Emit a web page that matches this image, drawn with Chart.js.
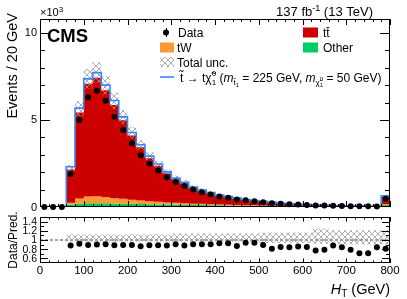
<!DOCTYPE html>
<html>
<head>
<meta charset="utf-8">
<script src="https://cdn.jsdelivr.net/npm/chart.js@4.4.1/dist/chart.umd.min.js"></script>
<style>
  html, body { margin: 0; padding: 0; background: #fff; }
  #wrap { position: relative; width: 407px; height: 299px; overflow: hidden; }
  canvas { position: absolute; left: 0; top: 0; }
</style>
</head>
<body>
<div id="wrap">
  <canvas id="main" width="407" height="299"></canvas>
  <canvas id="ratio" width="407" height="299"></canvas>
</div>
<script>
// --- binning (H_T, GeV; last bin holds the overflow) ---
const binLow = [0, 20, 40, 60, 80, 100, 120, 140, 160, 180, 200, 220, 240, 260, 280, 300, 320, 340, 360, 380,
                400, 420, 440, 460, 480, 500, 520, 540, 560, 580, 600, 620, 640, 660, 680, 700, 720, 740, 760, 780];
const binWidth = 20;

// --- events / 20 GeV, in units of 10^3 ---
const dataVals = [0.003, 0.003, 0.003, 1.90, 5.00, 6.30, 6.68, 6.11, 5.19, 4.43, 3.66, 2.97, 2.48, 2.10, 1.71, 1.44,
                  1.20, 1.00, 0.85, 0.72, 0.60, 0.53, 0.43, 0.39, 0.33, 0.28, 0.22, 0.18, 0.16, 0.14, 0.11, 0.09,
                  0.08, 0.07, 0.06, 0.05, 0.045, 0.04, 0.035, 0.47];
const ttbar = [0, 0, 0, 1.91, 4.94, 6.47, 6.80, 6.14, 5.34, 4.51, 3.69, 3.06, 2.47, 2.07, 1.68, 1.35,
               1.15, 0.91, 0.76, 0.63, 0.50, 0.435, 0.37, 0.305, 0.25, 0.225, 0.185, 0.142, 0.12, 0.10, 0.076, 0.068,
               0.055, 0.041, 0.032, 0.028, 0.031, 0.030, 0.017, 0.41];
const tW = [0, 0, 0, 0.11, 0.30, 0.40, 0.41, 0.36, 0.32, 0.28, 0.24, 0.20, 0.17, 0.15, 0.12, 0.11,
            0.09, 0.08, 0.07, 0.06, 0.05, 0.045, 0.04, 0.035, 0.03, 0.025, 0.022, 0.02, 0.018, 0.015, 0.013, 0.012,
            0.01, 0.009, 0.008, 0.007, 0.007, 0.006, 0.005, 0.05];
const other = [0, 0, 0, 0.14, 0.19, 0.21, 0.21, 0.21, 0.20, 0.19, 0.18, 0.17, 0.16, 0.15, 0.14, 0.13,
               0.12, 0.11, 0.11, 0.10, 0.10, 0.09, 0.08, 0.07, 0.07, 0.06, 0.06, 0.05, 0.05, 0.045, 0.04, 0.04,
               0.035, 0.03, 0.03, 0.025, 0.025, 0.02, 0.02, 0.12];
const signal = [0, 0, 0, 0.15, 0.25, 0.28, 0.30, 0.29, 0.26, 0.20, 0.17, 0.15, 0.12, 0.10, 0.08, 0.07,
                0.06, 0.05, 0.04, 0.035, 0.03, 0.025, 0.02, 0.02, 0.015, 0.015, 0.012, 0.01, 0.01, 0.008, 0.007, 0.006,
                0.005, 0.005, 0.004, 0.004, 0.003, 0.003, 0.003, 0.06];

// --- relative total uncertainty (down / up) ---
const uncDown = [0, 0, 0, 0.04, 0.04, 0.04, 0.04, 0.04, 0.04, 0.04, 0.04, 0.04, 0.04, 0.04, 0.04, 0.04,
                 0.04, 0.04, 0.04, 0.04, 0.04, 0.04, 0.04, 0.04, 0.04, 0.065, 0.065, 0.065, 0.065, 0.065, 0.065, 0.08,
                 0.08, 0.10, 0.10, 0.10, 0.10, 0.10, 0.10, 0.10];
const uncUp = [0, 0, 0, 0.12, 0.12, 0.12, 0.12, 0.12, 0.12, 0.12, 0.12, 0.12, 0.12, 0.12, 0.12, 0.14,
               0.14, 0.14, 0.14, 0.14, 0.14, 0.14, 0.14, 0.14, 0.14, 0.165, 0.165, 0.165, 0.165, 0.165, 0.165, 0.25,
               0.25, 0.21, 0.21, 0.21, 0.21, 0.21, 0.21, 0.21];

// --- data / prediction ---
const ratioVals = [null, null, null, 0.88, 0.92, 0.89, 0.90, 0.91, 0.885, 0.89, 0.89, 0.865, 0.885, 0.885, 0.88, 0.905,
                   0.88, 0.905, 0.905, 0.91, 0.93, 0.93, 0.87, 0.94, 0.94, 0.89, 0.81, 0.85, 0.84, 0.86, 0.85, 0.77,
                   0.79, 0.88, 0.84, 0.79, 0.71, 0.71, 0.84, 0.81];
const ratioErr = [0, 0, 0, 0.008, 0.006, 0.006, 0.006, 0.006, 0.006, 0.007, 0.007, 0.008, 0.008, 0.009, 0.01, 0.011,
                  0.012, 0.013, 0.014, 0.015, 0.017, 0.018, 0.02, 0.021, 0.022, 0.024, 0.026, 0.028, 0.03, 0.032, 0.035, 0.038,
                  0.04, 0.042, 0.045, 0.048, 0.052, 0.055, 0.06, 0.03];

// --- axis ticks ---
const xMajorTicks = [0, 100, 200, 300, 400, 500, 600, 700, 800];
const mainYMajor = [0, 5, 10];
const ratioYMajor = [0.6, 0.8, 1.0, 1.2, 1.4];
const ratioYLabels = ['0.6', '0.8', '1', '1.2', '1.4'];

const FONT = '"Liberation Sans", Arial, Helvetica, sans-serif';
const C_TT = '#cc0000', C_TW = '#ff9933', C_OTHER = '#00cc66', C_SIG = '#3388ff';

function makeHatch() {
  const c = document.createElement('canvas');
  c.width = 6; c.height = 6;
  const g = c.getContext('2d');
  g.strokeStyle = '#999';
  g.lineWidth = 0.8;
  g.beginPath();
  g.moveTo(0, 0); g.lineTo(6, 6);
  g.moveTo(6, 0); g.lineTo(0, 6);
  g.stroke();
  return g.createPattern(c, 'repeat');
}
const hatch = makeHatch();

// histogram outline: two points per bin
function histPath(vals, onlyIdx) {
  const pts = [];
  vals.forEach((v, i) => {
    if (v == null || (onlyIdx && !onlyIdx(i))) return;
    pts.push({ x: binLow[i], y: v }, { x: binLow[i] + binWidth, y: v });
  });
  return pts;
}

const smTotal = binLow.map((_, i) => other[i] + tW[i] + ttbar[i]);
const cumOther = other.slice();
const cumTW = binLow.map((_, i) => other[i] + tW[i]);
const uncLo = smTotal.map((v, i) => v * (1 - uncDown[i]));
const uncHi = smTotal.map((v, i) => v * (1 + uncUp[i]));
const sigTop = smTotal.map((v, i) => v + signal[i]);
const firstBin = sigTop.findIndex(v => v > 0);
const sigPath = [{ x: binLow[firstBin], y: 0 }].concat(histPath(sigTop, i => i >= firstBin));
const binCenter = binLow.map(v => v + binWidth / 2);
const dataErr = dataVals.map((v, i) => ratioVals[i] ? v * ratioErr[i] / ratioVals[i] : 0);

function richText(ctx, x, y, parts, align) {
  const font = p => (p.italic ? 'italic ' : '') + (p.bold ? 'bold ' : '') + (p.size || 12) + 'px ' + FONT;
  let w = 0;
  parts.forEach(p => { ctx.font = font(p); p.w = ctx.measureText(p.t).width; if (!p.keep) w += p.w; });
  let cx = align === 'right' ? x - w : align === 'center' ? x - w / 2 : x;
  ctx.textAlign = 'left';
  ctx.textBaseline = 'alphabetic';
  parts.forEach(p => {
    ctx.font = font(p);
    ctx.fillText(p.t, cx, y + (p.dy || 0));
    if (!p.keep) cx += p.w;
  });
}

// ROOT-like frame with inward ticks on all four sides
const rootFrame = {
  id: 'rootFrame',
  afterDraw(chart, args, o) {
    const { ctx, chartArea: a } = chart;
    const xs = chart.scales.x, ys = chart.scales.y;
    ctx.save();
    ctx.strokeStyle = '#000';
    ctx.lineWidth = 1;
    ctx.beginPath();
    for (let v = xs.min; v <= xs.max; v += o.xMinorStep) {
      const px = Math.round(xs.getPixelForValue(v)) + 0.5;
      const len = xMajorTicks.includes(v) ? o.xMajor : o.xMinor;
      ctx.moveTo(px, a.bottom); ctx.lineTo(px, a.bottom - len);
      ctx.moveTo(px, a.top); ctx.lineTo(px, a.top + len);
    }
    for (let k = 1; ; k++) {
      const v = +(ys.min + k * o.yMinorStep).toFixed(4);
      if (v >= ys.max) break;
      const py = Math.round(ys.getPixelForValue(v)) + 0.5;
      const len = o.yMajorVals.some(m => Math.abs(m - v) < 1e-6) ? o.yMajor : o.yMinor;
      ctx.moveTo(a.left, py); ctx.lineTo(a.left + len, py);
      ctx.moveTo(a.right, py); ctx.lineTo(a.right - len, py);
    }
    ctx.stroke();
    ctx.strokeRect(a.left + 0.5, a.top + 0.5, a.right - a.left - 1, a.bottom - a.top - 1);

    ctx.fillStyle = '#000';
    ctx.font = o.yFont + 'px ' + FONT;
    ctx.textAlign = 'right';
    ctx.textBaseline = 'middle';
    o.yMajorVals.forEach((v, i) => ctx.fillText(o.yLabels[i], a.left - 3, ys.getPixelForValue(v) + 0.5));
    if (o.xLabels) {
      ctx.font = o.xFont + 'px ' + FONT;
      ctx.textAlign = 'center';
      ctx.textBaseline = 'top';
      xMajorTicks.forEach(v => ctx.fillText(String(v), xs.getPixelForValue(v), a.bottom + 2.5));
    }
    ctx.restore();
  }
};

const errBars = {
  id: 'errBars',
  afterDatasetsDraw(chart, args, o) {
    const { ctx } = chart;
    const xs = chart.scales.x, ys = chart.scales.y;
    ctx.save();
    ctx.strokeStyle = '#000';
    ctx.lineWidth = 1;
    ctx.beginPath();
    o.y.forEach((v, i) => {
      if (v == null || !o.e[i]) return;
      const px = Math.round(xs.getPixelForValue(o.x[i])) + 0.5;
      ctx.moveTo(px, ys.getPixelForValue(v - o.e[i]));
      ctx.lineTo(px, ys.getPixelForValue(v + o.e[i]));
    });
    ctx.stroke();
    ctx.restore();
  }
};

// CMS label, lumi, legend, axis titles
const mainText = {
  id: 'mainText',
  afterDraw(chart) {
    const { ctx } = chart;
    ctx.save();
    ctx.fillStyle = '#000';
    richText(ctx, 47, 41.5, [{ t: 'CMS', bold: true, size: 18.5 }]);
    richText(ctx, 373, 16, [{ t: '137 fb', size: 13 }, { t: '-1', size: 9, dy: -5 }, { t: ' (13 TeV)', size: 13 }], 'right');
    richText(ctx, 40, 16, [{ t: '\u00d710', size: 11 }, { t: '3', size: 8, dy: -4 }]);

    ctx.save();
    ctx.translate(17, 13);
    ctx.rotate(-Math.PI / 2);
    ctx.font = '14.5px ' + FONT;
    ctx.textAlign = 'right';
    ctx.textBaseline = 'alphabetic';
    ctx.fillText('Events / 20 GeV', 0, 0);
    ctx.restore();

    // legend
    const rows = [32.5, 47.5, 62, 77];
    // Data
    ctx.beginPath(); ctx.arc(166, rows[0], 3, 0, Math.PI * 2); ctx.fill();
    ctx.strokeStyle = '#000'; ctx.lineWidth = 1;
    ctx.beginPath(); ctx.moveTo(166.5, rows[0] - 4.5); ctx.lineTo(166.5, rows[0] + 4.5); ctx.stroke();
    richText(ctx, 178, rows[0] + 4.5, [{ t: 'Data' }]);
    // tW
    ctx.fillStyle = C_TW; ctx.fillRect(160, rows[1] - 5, 14, 10);
    ctx.fillStyle = '#000';
    richText(ctx, 177, rows[1] + 4.5, [{ t: 'tW' }]);
    // total unc.
    ctx.fillStyle = hatch; ctx.fillRect(160, rows[2] - 5, 14, 10);
    ctx.fillStyle = '#000';
    richText(ctx, 177, rows[2] + 4.5, [{ t: 'Total unc.' }]);
    // signal
    ctx.strokeStyle = C_SIG; ctx.lineWidth = 1.6;
    ctx.beginPath(); ctx.moveTo(160, rows[3]); ctx.lineTo(174, rows[3]); ctx.stroke();
    richText(ctx, 180, rows[3] + 4.5, [
      { t: 't\u0303' }, { t: ' \u2192 t' }, { t: '\u03c7\u0303' },
      { t: '1', size: 8, dy: 3, keep: true }, { t: '0', size: 8, dy: -6 },
      { t: ' (' }, { t: 'm', italic: true }, { t: 't\u0303', size: 8, dy: 3 }, { t: '1', size: 6, dy: 5 },
      { t: ' = 225 GeV, ' }, { t: 'm', italic: true }, { t: '\u03c7\u0303', size: 8, dy: 3 },
      { t: '1', size: 6, dy: 5, keep: true }, { t: '0', size: 6, dy: -1 }, { t: ' = 50 GeV)' }
    ]);
    // ttbar, other
    ctx.fillStyle = C_TT; ctx.fillRect(303, rows[0] - 5, 15, 10);
    ctx.fillStyle = C_OTHER; ctx.fillRect(303, rows[1] - 5, 15, 10);
    ctx.fillStyle = '#000';
    richText(ctx, 323, rows[0] + 4.5, [{ t: 't' }, { t: 't\u0304' }]);
    richText(ctx, 323, rows[1] + 4.5, [{ t: 'Other' }]);
    ctx.restore();
  }
};

const ratioText = {
  id: 'ratioText',
  afterDraw(chart) {
    const { ctx } = chart;
    ctx.save();
    ctx.fillStyle = '#000';
    ctx.save();
    ctx.translate(17, 240);
    ctx.rotate(-Math.PI / 2);
    ctx.font = '12px ' + FONT;
    ctx.textAlign = 'center';
    ctx.fillText('Data/Pred.', 0, 0);
    ctx.restore();
    richText(ctx, 390, 294, [{ t: 'H', italic: true, size: 14.5 }, { t: 'T', size: 10, dy: 3 }, { t: ' (GeV)', size: 14.5 }], 'right');
    ctx.restore();
  }
};

const baseOptions = (padding, yMin, yMax) => ({
  responsive: false,
  animation: false,
  devicePixelRatio: 1,
  events: [],
  layout: { padding },
  elements: {
    line: { borderWidth: 0, borderColor: 'rgba(0,0,0,0)', tension: 0 },
    point: { radius: 0, hoverRadius: 0 }
  },
  scales: {
    x: { type: 'linear', min: 0, max: 800, display: false },
    y: { type: 'linear', min: yMin, max: yMax, display: false }
  }
});

const mainOpts = baseOptions({ left: 40, right: 17, top: 19, bottom: 92 }, 0, 10.8);
mainOpts.plugins = {
  legend: { display: false },
  tooltip: { enabled: false },
  rootFrame: { xMinorStep: 20, xMajor: 6, xMinor: 3, yMinorStep: 1, yMajor: 10, yMinor: 5,
               yMajorVals: mainYMajor, yLabels: ['0', '5', '10'], yFont: 11 },
  errBars: { x: binCenter, y: dataVals, e: dataErr }
};

new Chart(document.getElementById('main'), {
  type: 'line',
  data: {
    datasets: [
      { label: 'Other', data: histPath(cumOther), backgroundColor: C_OTHER, fill: 'origin', order: 10 },
      { label: 'tW', data: histPath(cumTW), backgroundColor: C_TW, fill: '-1', order: 9 },
      { label: 'ttbar', data: histPath(smTotal), backgroundColor: C_TT, fill: '-1', order: 8 },
      { label: 'unc lo', data: histPath(uncLo), fill: false, order: 7 },
      { label: 'Total unc.', data: histPath(uncHi), backgroundColor: hatch, fill: '-1', order: 6 },
      { label: 'signal', data: sigPath, borderColor: C_SIG, borderWidth: 1.6, fill: false, order: 5 },
      { label: 'Data', data: binCenter.map((x, i) => ({ x, y: dataVals[i] })), showLine: false,
        pointRadius: 3, pointBackgroundColor: '#000', pointBorderWidth: 0, clip: false, order: 1 }
    ]
  },
  options: mainOpts,
  plugins: [rootFrame, errBars, mainText]
});

const hasPred = i => smTotal[i] > 0;
const ratioOpts = baseOptions({ left: 40, right: 17, top: 217, bottom: 36 }, 0.5, 1.5);
ratioOpts.plugins = {
  legend: { display: false },
  tooltip: { enabled: false },
  rootFrame: { xMinorStep: 20, xMajor: 4.5, xMinor: 2.5, yMinorStep: 0.1, yMajor: 8, yMinor: 4,
               yMajorVals: ratioYMajor, yLabels: ratioYLabels, yFont: 10.5, xLabels: true, xFont: 11.5 },
  errBars: { x: binCenter, y: ratioVals, e: ratioErr }
};

new Chart(document.getElementById('ratio'), {
  type: 'line',
  data: {
    datasets: [
      { label: 'unity', data: [{ x: 0, y: 1 }, { x: 800, y: 1 }], borderColor: '#444', borderWidth: 1,
        borderDash: [3, 2], fill: false, order: 10 },
      { label: 'band lo', data: histPath(uncDown.map(d => 1 - d), hasPred), fill: false, order: 9 },
      { label: 'band hi', data: histPath(uncUp.map(u => 1 + u), hasPred), backgroundColor: hatch, fill: '-1', order: 8 },
      { label: 'ratio', data: binCenter.map((x, i) => ({ x, y: ratioVals[i] })).filter(p => p.y != null),
        showLine: false, pointRadius: 3, pointBackgroundColor: '#000', pointBorderWidth: 0, clip: false, order: 1 }
    ]
  },
  options: ratioOpts,
  plugins: [rootFrame, errBars, ratioText]
});
</script>
</body>
</html>
